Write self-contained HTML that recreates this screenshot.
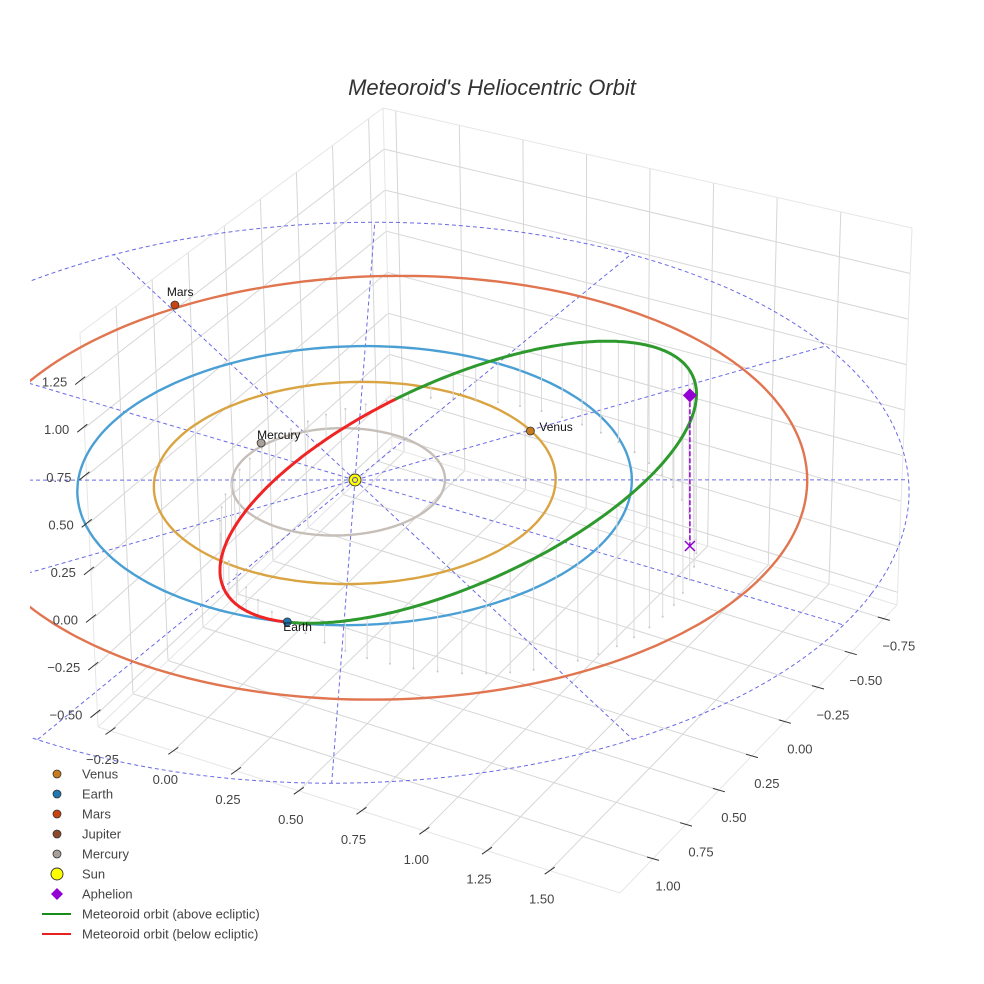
<!DOCTYPE html>
<html>
<head>
<meta charset="utf-8">
<style>
  html,body{margin:0;padding:0;background:#fff;}
  svg{display:block;font-family:"Liberation Sans",sans-serif;}
</style>
</head>
<body>
<svg id="chart" width="984" height="984" viewBox="0 0 984 984" xmlns="http://www.w3.org/2000/svg">
  <rect x="0" y="0" width="984" height="984" fill="#ffffff"/>
  <defs>
    <clipPath id="plotclip"><rect x="30" y="0" width="954" height="984"/></clipPath>
  </defs>
  <g id="box"></g>
  <g id="scene" clip-path="url(#plotclip)"></g>
  <g id="axes"></g>
  <text x="492" y="95" text-anchor="middle" font-size="22" font-style="italic" fill="#333">Meteoroid's Heliocentric Orbit</text>
  <g id="legend"></g>
</svg>
<script>
// ---------- data ----------
const planetNames = ['Venus', 'Earth', 'Mars', 'Mercury'];
const planetDist = [0.723, 0.998, 1.515, 0.444];
const planetLon = [-52.8, 78.1, -142.4, -166.0];
const planetColors = ['#c87a1e', '#1f77b4', '#c8440f', '#a9a09a'];
const orbitRadius = [0.725, 1.0, 1.52, 0.385];
const orbitCenterX = [0, 0, 0.09, -0.052];
const orbitCenterY = [0, 0, -0.08, 0.03];
const orbitColors = ['#d9a441', '#4a9fd4', '#e07550', '#c6beb8'];

const meteorNodeLon = -101.7;      // degrees
const meteorIncl = 31.4;           // degrees
const meteorCenter = [-0.272, 0.442];
const meteorAxisA = [0.820, -0.536];
const meteorAxisB = [0.453, 0.693];
const aphelion = [1.291, -0.049, 0.778];

const guideRadii = [1.0, 2.0];
const guideAngles = [-23.3, 6.7, 36.7, 66.7, 96.7, 126.7, 156.7, 186.7, 216.7, 246.7, 276.7, 306.7];

const xTicks = [-0.25, 0, 0.25, 0.5, 0.75, 1, 1.25, 1.5];
const yTicks = [-0.75, -0.5, -0.25, 0, 0.25, 0.5, 0.75, 1];
const zTicks = [-0.5, -0.25, 0, 0.25, 0.5, 0.75, 1, 1.25];
const xRange = [-0.30, 1.78];
const yRange = [-0.85, 1.25];
const zRange = [-0.57, 1.5];

const legendLabels = ['Venus', 'Earth', 'Mars', 'Jupiter', 'Mercury', 'Sun', 'Aphelion', 'Meteoroid orbit (above ecliptic)', 'Meteoroid orbit (below ecliptic)'];
const legendColors = ['#c87a1e', '#1f77b4', '#c8440f', '#8b4a2b', '#a9a09a', '#ffff00', '#9400d3', '#1a8c1a', '#e82020'];

// ---------- projection ----------
const NS = 'http://www.w3.org/2000/svg';
const G = 2.91e-4, ZS = 190, SX = 355, SY = 480;
function proj(x, y, z) {
  const ux = 250 * x - 119.3 * y, uy = 55 * x + 128 * y;
  const f = 1 / (1 - G * uy);
  return [SX + f * ux, SY + f * (uy - ZS * z)];
}
const cL = [98, 727], cF = [620, 893], cR = [897, 605], cB = [392, 448];
const cLt = [80, 333], cBt = [383, 108], cRt = [912, 228];
function bil(p00, p10, p11, p01, u, v) {
  return [
    p00[0] * (1 - u) * (1 - v) + p10[0] * u * (1 - v) + p11[0] * u * v + p01[0] * (1 - u) * v,
    p00[1] * (1 - u) * (1 - v) + p10[1] * u * (1 - v) + p11[1] * u * v + p01[1] * (1 - u) * v
  ];
}
function floorPt(x, y) {
  const s = (x - xRange[0]) / (xRange[1] - xRange[0]);
  const t = (yRange[1] - y) / (yRange[1] - yRange[0]);
  return bil(cL, cF, cR, cB, s, t);
}
function leftWall(y, z) {
  const u = (yRange[1] - y) / (yRange[1] - yRange[0]);
  const v = (z - zRange[0]) / (zRange[1] - zRange[0]);
  return bil(cL, cB, cBt, cLt, u, v);
}
function rightWall(x, z) {
  const u = (x - xRange[0]) / (xRange[1] - xRange[0]);
  const v = (z - zRange[0]) / (zRange[1] - zRange[0]);
  return bil(cB, cR, cRt, cBt, u, v);
}
function mk(tag, attrs, parent) {
  const el = document.createElementNS(NS, tag);
  for (const k in attrs) el.setAttribute(k, attrs[k]);
  parent.appendChild(el);
  return el;
}
function line(p, q, attrs, parent) {
  return mk('line', Object.assign({x1: p[0].toFixed(1), y1: p[1].toFixed(1), x2: q[0].toFixed(1), y2: q[1].toFixed(1)}, attrs), parent);
}
function fmt(v) { const s = Math.abs(v).toFixed(2); return v < 0 ? '\u2212' + s : s; }

const box = document.getElementById('box');
const scene = document.getElementById('scene');
const axes = document.getElementById('axes');
const legend = document.getElementById('legend');
const GRID = {stroke: '#d6d6d6', 'stroke-width': 1};

// ---------- box grid ----------
for (const x of xTicks) {
  const g1 = line(floorPt(x, yRange[1]), floorPt(x, yRange[0]), GRID, box);
  
  
  const g2 = line(rightWall(x, zRange[0]), rightWall(x, zRange[1]), GRID, box);
  
  
}
for (const y of yTicks) {
  const g1 = line(floorPt(xRange[0], y), floorPt(xRange[1], y), GRID, box);
  
  
  const g2 = line(leftWall(y, zRange[0]), leftWall(y, zRange[1]), GRID, box);
  
  
}
for (const z of zTicks) {
  const g1 = line(leftWall(yRange[1], z), leftWall(yRange[0], z), GRID, box);
  
  
  const g2 = line(rightWall(xRange[0], z), rightWall(xRange[1], z), GRID, box);
  
  
}
const EDGE = {stroke: '#e6e6e6', 'stroke-width': 1};
[[cL, cF], [cF, cR], [cR, cB], [cB, cL], [cL, cLt], [cLt, cBt], [cBt, cRt], [cRt, cR], [cB, cBt]].forEach(e => {
  const el = line(e[0], e[1], EDGE, box);
  
  
});

// ---------- ecliptic guides ----------
const DASH = {stroke: '#6a6ae6', 'stroke-width': 1, 'stroke-dasharray': '4,3', fill: 'none'};
function circlePath(cx, cy, r, z) {
  let d = '';
  for (let i = 0; i <= 240; i++) {
    const a = i / 240 * 2 * Math.PI;
    const p = proj(cx + r * Math.cos(a), cy + r * Math.sin(a), z || 0);
    d += (i ? 'L' : 'M') + p[0].toFixed(1) + ' ' + p[1].toFixed(1);
  }
  return d;
}
for (const r of guideRadii) {
  const el = mk('path', Object.assign({d: circlePath(0, 0, r)}, DASH), scene);
  
  
}
const rMax = guideRadii[guideRadii.length - 1];
for (const ang of guideAngles) {
  const a = ang * Math.PI / 180;
  const el = line(proj(0, 0, 0), proj(rMax * Math.cos(a), rMax * Math.sin(a), 0), DASH, scene);
  
  
}

// ---------- planet orbits ----------
for (let i = 0; i < planetNames.length; i++) {
  const el = mk('path', {d: circlePath(orbitCenterX[i], orbitCenterY[i], orbitRadius[i]), fill: 'none', stroke: orbitColors[i], 'stroke-width': 2.4}, scene);
  
  
}

// ---------- meteoroid ----------
const L0 = meteorNodeLon * Math.PI / 180;
const n1 = [Math.cos(L0), Math.sin(L0)];
const m1 = [-Math.sin(L0), Math.cos(L0)];
const slope = Math.tan(meteorIncl * Math.PI / 180);
function meteorPt(t) {
  const a = meteorCenter[0] + meteorAxisA[0] * Math.cos(t) + meteorAxisB[0] * Math.sin(t);
  const b = meteorCenter[1] + meteorAxisA[1] * Math.cos(t) + meteorAxisB[1] * Math.sin(t);
  return [a * n1[0] + b * m1[0], a * n1[1] + b * m1[1], slope * b];
}
const NST = 64;
for (let i = 0; i < NST; i++) {
  const p = meteorPt(i / NST * 2 * Math.PI);
  const top = proj(p[0], p[1], p[2]), foot = proj(p[0], p[1], 0);
  const st = line(top, foot, {stroke: '#dadada', 'stroke-width': 1}, scene);
  
  
  const dt = mk('circle', {cx: foot[0].toFixed(1), cy: foot[1].toFixed(1), r: 1, fill: '#c8c8c8'}, scene);
  
  
}
const NM = 400;
let segs = [], cur = null;
for (let i = 0; i <= NM; i++) {
  const p = meteorPt(i / NM * 2 * Math.PI);
  const above = p[2] >= 0;
  const sp = proj(p[0], p[1], p[2]);
  if (!cur || cur.above !== above) {
    if (cur) cur.pts.push(sp);
    cur = {above: above, pts: []};
    segs.push(cur);
  }
  cur.pts.push(sp);
}
segs.forEach(s => {
  const d = s.pts.map((p, i) => (i ? 'L' : 'M') + p[0].toFixed(1) + ' ' + p[1].toFixed(1)).join('');
  const el = mk('path', {d: d, fill: 'none', stroke: s.above ? '#2e9a2e' : '#f02424', 'stroke-width': 3, 'stroke-linecap': 'round'}, scene);
  
  
});
const apS = proj(aphelion[0], aphelion[1], aphelion[2]);
const apF = proj(aphelion[0], aphelion[1], 0);
const apl = line(apS, apF, {stroke: '#9400d3', 'stroke-width': 1.5, 'stroke-dasharray': '5,2'}, scene);


const apx = mk('path', {d: `M${apF[0] - 5} ${apF[1] - 5}L${apF[0] + 5} ${apF[1] + 5}M${apF[0] - 5} ${apF[1] + 5}L${apF[0] + 5} ${apF[1] - 5}`, stroke: '#9400d3', 'stroke-width': 1.5}, scene);


const apd = mk('path', {d: `M${apS[0]} ${apS[1] - 7}L${apS[0] + 7} ${apS[1]}L${apS[0]} ${apS[1] + 7}L${apS[0] - 7} ${apS[1]}Z`, fill: '#9400d3'}, scene);



// ---------- planets ----------
const labelOffsets = [[9, 0, 'start'], [-4, 9, 'start'], [-8, -9, 'start'], [-4, -4, 'start']];
for (let i = 0; i < planetNames.length; i++) {
  const a = planetLon[i] * Math.PI / 180;
  const p = proj(planetDist[i] * Math.cos(a), planetDist[i] * Math.sin(a), 0);
  const c = mk('circle', {cx: p[0].toFixed(1), cy: p[1].toFixed(1), r: 4, fill: planetColors[i], stroke: '#333', 'stroke-width': 0.8}, scene);
  
  
  const t = mk('text', {x: (p[0] + labelOffsets[i][0]).toFixed(1), y: (p[1] + labelOffsets[i][1]).toFixed(1), 'font-size': 12, fill: '#111', 'text-anchor': labelOffsets[i][2]}, scene);
  t.textContent = planetNames[i];
  
  
}
const sunP = proj(0, 0, 0);
const sun = mk('circle', {cx: sunP[0], cy: sunP[1], r: 6, fill: '#ffff00', stroke: '#333', 'stroke-width': 0.9}, scene);


const sunIn = mk('circle', {cx: sunP[0], cy: sunP[1], r: 2.5, fill: 'none', stroke: '#4a4ad0', 'stroke-width': 1}, scene);



// ---------- axes ticks & labels ----------
const TICK = {stroke: '#333', 'stroke-width': 1};
const TXT = {'font-size': 13, fill: '#444'};
for (const x of xTicks) {
  const p = floorPt(x, yRange[1]);
  const tk = line([p[0] - 5, p[1] + 3.5], [p[0] + 5, p[1] - 3.5], TICK, axes);
  
  
  const t = mk('text', Object.assign({x: (p[0] - 8).toFixed(1), y: (p[1] + 33).toFixed(1), 'text-anchor': 'middle'}, TXT), axes);
  t.textContent = fmt(x);
  
  
}
for (const y of yTicks) {
  const p = floorPt(xRange[1], y);
  const tk = line([p[0] - 6, p[1] - 1.7], [p[0] + 6, p[1] + 1.7], TICK, axes);
  
  
  const t = mk('text', Object.assign({x: (p[0] + 15).toFixed(1), y: (p[1] + 32).toFixed(1), 'text-anchor': 'middle'}, TXT), axes);
  t.textContent = fmt(y);
  
  
}
for (const z of zTicks) {
  const p = leftWall(yRange[1], z);
  const tk = line([p[0] - 7, p[1] + 4], [p[0] + 3, p[1] - 4], TICK, axes);
  
  
  const t = mk('text', Object.assign({x: (p[0] - 15).toFixed(1), y: (p[1] + 6).toFixed(1), 'text-anchor': 'end'}, TXT), axes);
  t.textContent = fmt(z);
  
  
}

// ---------- legend ----------
for (let i = 0; i < legendLabels.length; i++) {
  const y = 774 + i * 20;
  let mkEl;
  if (i <= 4) {
    mkEl = mk('circle', {cx: 57, cy: y, r: 4, fill: legendColors[i], stroke: '#333', 'stroke-width': 0.8}, legend);
  } else if (i === 5) {
    mkEl = mk('circle', {cx: 57, cy: y, r: 6, fill: legendColors[i], stroke: '#333', 'stroke-width': 0.9}, legend);
  } else if (i === 6) {
    mkEl = mk('path', {d: `M57 ${y - 6}L63 ${y}L57 ${y + 6}L51 ${y}Z`, fill: legendColors[i]}, legend);
  } else {
    mkEl = mk('line', {x1: 42, y1: y, x2: 71, y2: y, stroke: legendColors[i], 'stroke-width': 2}, legend);
  }
  
  
  const t = mk('text', {x: 82, y: y + 4.5, 'font-size': 13, fill: '#444'}, legend);
  t.textContent = legendLabels[i];
  
  
}
</script>
</body>
</html>
